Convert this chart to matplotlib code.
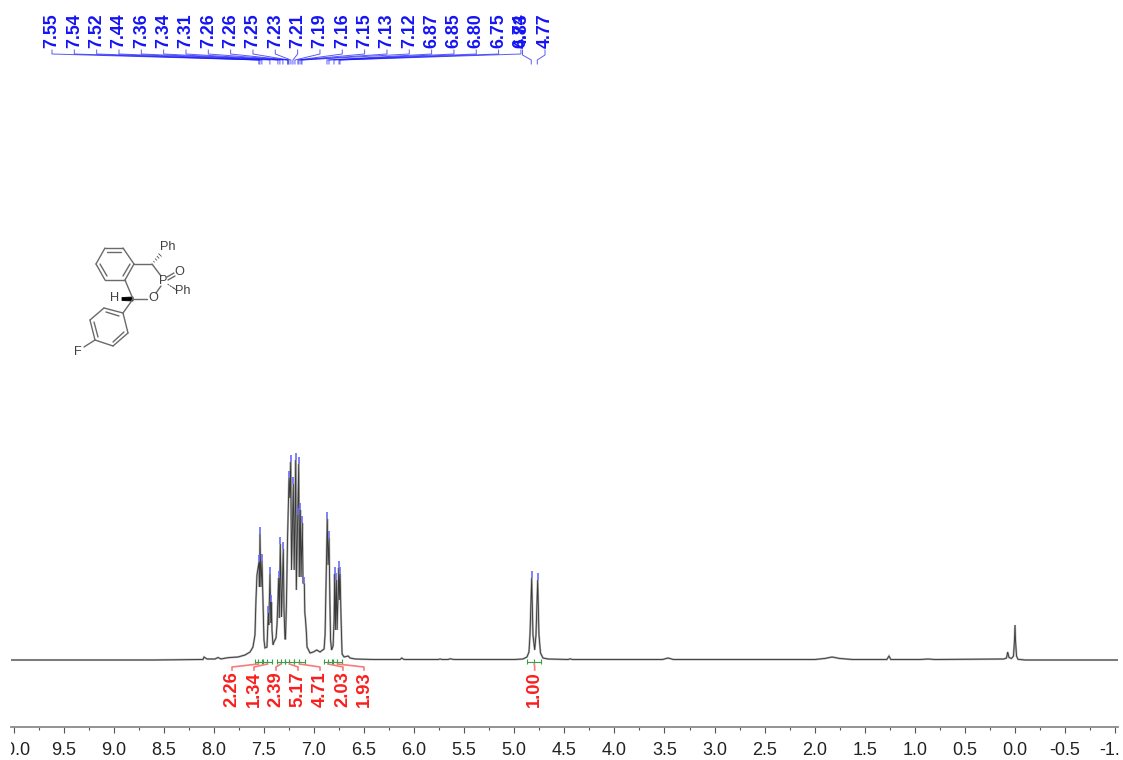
import matplotlib
matplotlib.use('Agg')
import matplotlib.pyplot as plt
import numpy as np
from matplotlib.transforms import Bbox
from matplotlib.patches import Polygon

plt.rcParams['font.family'] = ['Liberation Sans', 'DejaVu Sans']
plt.rcParams['axes.unicode_minus'] = False

# spectrum outline: shift in ppm, height above baseline
ppm = [10.03, 8.60, 8.108, 8.098, 8.068, 7.988, 7.958, 7.928, 7.878, 7.838, 7.758, 7.688, 7.638,
       7.609, 7.589, 7.579, 7.569, 7.549, 7.544, 7.539, 7.529, 7.519, 7.509, 7.499, 7.489, 7.469,
       7.456, 7.451, 7.439, 7.431, 7.425, 7.419, 7.409, 7.399, 7.379, 7.369, 7.352, 7.346, 7.336,
       7.324, 7.306, 7.299, 7.289, 7.284, 7.274, 7.264, 7.249, 7.241, 7.232, 7.224, 7.206, 7.197,
       7.182, 7.176, 7.152, 7.146, 7.136, 7.129, 7.116, 7.109, 7.096, 7.091, 7.084, 7.074, 7.069,
       7.039, 7.006, 6.972, 6.939, 6.899, 6.889, 6.879, 6.867, 6.859, 6.849, 6.841, 6.834, 6.824,
       6.809, 6.799, 6.793, 6.786, 6.776, 6.769, 6.752, 6.747, 6.739, 6.729, 6.719, 6.699, 6.659,
       6.639, 6.589, 6.40, 6.14, 6.124, 6.10, 5.76, 5.741, 5.72, 5.66, 5.641, 5.60, 5.00,
       4.913, 4.873, 4.853, 4.843, 4.826, 4.813, 4.796, 4.783, 4.766, 4.753, 4.738, 4.713, 4.663,
       4.46, 4.443, 4.42, 3.52, 3.465, 3.41, 2.00, 1.90, 1.827, 1.75, 1.62, 1.28, 1.258, 1.24,
       0.95, 0.869, 0.80, 0.11, 0.085, 0.073, 0.06, 0.035, 0.015, 0.005, 0.0, -0.005, -0.015,
       -0.03, -0.10, -1.03]
height = [0, 0, 0.5, 3, 1, 1, 2.5, 1, 2, 2.5, 3, 5, 8,
          13, 25, 60, 85, 98, 73, 126, 73, 99, 60, 20, 12, 13,
          47, 35, 86, 37, 58, 30, 15, 18, 22, 35, 82, 42, 116,
          43, 111, 50, 21, 21, 60, 120, 182, 162, 198, 90, 176, 90,
          200, 70, 196, 83, 150, 83, 137, 77, 76, 47, 40, 25, 13,
          7, 8, 10, 8, 11, 25, 80, 141, 95, 122, 60, 20, 10,
          14, 40, 86, 30, 80, 30, 92, 60, 86, 40, 6, 3, 4,
          2, 1, 0.5, 0.5, 2, 0.5, 0.5, 1, 0.5, 0.5, 1.2, 0.5, 0.5,
          1, 3, 8, 25, 82, 25, 10, 25, 80, 25, 7, 2, 1,
          0.5, 1.2, 0.5, 0.5, 2, 0.5, 0.5, 1.5, 3, 1.5, 0.5, 0.5, 4, 0.5,
          0.5, 1, 0.5, 1, 2, 8, 2.5, 1.5, 4, 20, 35, 20, 4,
          0.7, 0, 0]

# small blue marks sitting on the picked peaks
pick_ppm = [7.549, 7.539, 7.519, 7.456, 7.439, 7.425, 7.352, 7.336, 7.306, 7.249, 7.232, 7.206,
            7.182, 7.157, 7.152, 7.136, 7.116, 7.096, 6.867, 6.849, 6.793, 6.776, 6.752, 6.739,
            4.826, 4.766]
pick_height = [98, 126, 99, 47, 86, 58, 82, 116, 111, 182, 198, 176,
               200, 145, 196, 150, 137, 76, 141, 122, 86, 80, 92, 86,
               82, 80]

peak_labels = ['7.55', '7.54', '7.52', '7.44', '7.36', '7.34', '7.31', '7.26', '7.26', '7.25', '7.23',
               '7.21', '7.19', '7.16', '7.15', '7.13', '7.12', '6.87', '6.85', '6.80', '6.75', '6.74']
brace_labels = ['4.83', '4.77']

integral_labels = ['2.26', '1.34', '2.39', '5.17', '4.71', '2.03', '1.93', '1.00']
integral_start = [7.59, 7.51, 7.37, 7.29, 7.20, 6.90, 6.81, 4.87]
integral_end = [7.52, 7.42, 7.29, 7.20, 7.09, 6.82, 6.72, 4.73]

tick_values = [10.0, 9.5, 9.0, 8.5, 8.0, 7.5, 7.0, 6.5, 6.0, 5.5, 5.0, 4.5, 4.0,
               3.5, 3.0, 2.5, 2.0, 1.5, 1.0, 0.5, 0.0, -0.5, -1.0]
tick_labels = ['10.0', '9.5', '9.0', '8.5', '8.0', '7.5', '7.0', '6.5', '6.0', '5.5', '5.0', '4.5',
               '4.0', '3.5', '3.0', '2.5', '2.0', '1.5', '1.0', '0.5', '0.0', '-0.5', '-1.0']
minor_values = [9.75, 9.25, 8.75, 8.25, 7.75, 7.25, 6.75, 6.25, 5.75, 5.25, 4.75, 4.25, 3.75,
                3.25, 2.75, 2.25, 1.75, 1.25, 0.75, 0.25, -0.25, -0.75]

W, H = 1123, 760
LEFT, RIGHT, AXIS_Y, BASE_Y = 11, 1118, 727, 660
BLUE = '#1414f5'
RED = '#fa1e1e'


def ppm_at(x_px):
    return (1015.0 - x_px) / 100.15


fig = plt.figure(figsize=(W / 100, H / 100), dpi=100)
ax = fig.add_axes([LEFT / W, (H - AXIS_Y) / H, (RIGHT - LEFT) / W, AXIS_Y / H])
ax.set_xlim(ppm_at(LEFT), ppm_at(RIGHT))
ax.set_ylim(BASE_Y - AXIS_Y, BASE_Y)
ax.patch.set_visible(False)

# wide grey under a thin dark line gives the soft look of the scan
ax.plot(ppm, height, color='#b4b4b4', lw=1.5, solid_joinstyle='miter', zorder=2.5)
ax.plot(ppm, height, color='#3a3a3a', lw=0.65, solid_joinstyle='miter', zorder=3)
ax.vlines(pick_ppm, np.array(pick_height) + 0.5, np.array(pick_height) + 7.5,
          color='#6a6af8', lw=1.2, zorder=4)

# peak labels and their fan of leader lines
for i, label in enumerate(peak_labels):
    x_label = ppm_at(52 + 22.33 * i)
    peak = float(label)
    ax.text(x_label, BASE_Y - 31, label, rotation=90, ha='center', va='center',
            fontsize=12.8, fontweight='bold', color=BLUE, clip_on=False)
    ax.plot([x_label, x_label, peak, peak],
            [BASE_Y - 50, BASE_Y - 54, BASE_Y - 60, BASE_Y - 64],
            color=BLUE, lw=0.7, alpha=0.7, clip_on=False)

for label, x_px, peak in zip(brace_labels, [522.5, 545], [4.83, 4.77]):
    x_label = ppm_at(x_px)
    ax.text(x_label, BASE_Y - 31, label, rotation=90, ha='center', va='center',
            fontsize=12.8, fontweight='bold', color=BLUE, clip_on=False)
    ax.plot([x_label, x_label, peak, peak],
            [BASE_Y - 50, BASE_Y - 55, BASE_Y - 60, BASE_Y - 64],
            color=BLUE, lw=0.7, alpha=0.7, clip_on=False)

# integrals
label_px = [232, 254, 276, 298, 320, 343, 364, 534.7]
for label, x_px, a, b in zip(integral_labels, label_px, integral_start, integral_end):
    x_label = ppm_at(x_px)
    mid = (a + b) / 2
    ax.plot([a, b], [-1.5, -1.5], color='#35a045', lw=0.8, zorder=2)
    ax.vlines([a, mid, b], -4, 1, color='#35a045', lw=0.8, zorder=2)
    ax.plot([mid, x_label, x_label], [-4, -7, -10], color='#fb7a7a', lw=1.2)
    ax.text(x_label, BASE_Y - 689, label, rotation=90, ha='center', va='center',
            fontsize=13.2, fontweight='bold', color=RED)

for side in ['top', 'left', 'right']:
    ax.spines[side].set_visible(False)
ax.spines['bottom'].set_color('#8a8a8a')
ax.spines['bottom'].set_linewidth(1.3)
ax.set_yticks([])
ax.set_xticks(tick_values)
ax.set_xticklabels(tick_labels)
ax.set_xticks(minor_values, minor=True)
ax.tick_params(axis='x', which='major', length=4.3, width=0.8, color='#555555', pad=6.5,
               labelsize=13, labelcolor='#222222')
ax.tick_params(axis='x', which='minor', length=2.2, width=0.8, color='#555555')

# the end labels are cut by the plot edge in the original
edge = Bbox([[LEFT, 0], [RIGHT + 1, H]])
for tl in ax.get_xticklabels():
    tl.set_clip_box(edge)
    tl.set_clip_on(True)

# structure drawing, in picture pixels
mol = fig.add_axes([0, 0, 1, 1])
mol.set_xlim(0, W)
mol.set_ylim(H, 0)
mol.axis('off')
mol.patch.set_visible(False)

bonds = [[(105, 248), (123, 248)], [(123, 248), (134, 264)], [(134, 264), (125, 280)],
         [(125, 280), (105, 280)], [(105, 280), (96, 264)], [(96, 264), (105, 248)],
         [(107, 252), (121, 252)], [(130, 264), (123, 276)], [(107, 276), (100, 264)],
         [(134, 264), (152, 264)], [(152, 264), (161, 276)], [(125, 280), (133, 299)],
         [(133, 299), (147, 299)], [(161, 286), (156, 293)], [(133, 299), (123, 313)],
         [(123, 313), (104, 308)], [(104, 308), (90, 320)], [(90, 320), (95, 340)],
         [(95, 340), (113, 346)], [(113, 346), (128, 333)], [(128, 333), (123, 313)],
         [(119, 316), (106, 312)], [(94, 322), (98, 337)], [(113, 342), (124, 332)],
         [(95, 340), (84, 347)], [(167, 277), (174, 273)], [(168, 280), (175, 276)]]
for (x0, y0), (x1, y1) in bonds:
    mol.plot([x0, x1], [y0, y1], color='#6a6a6a', lw=1.0, solid_capstyle='round')

# hashed bonds
for (x0, y0), (x1, y1) in [[(152, 264), (160, 255)], [(166, 283), (175, 289)]]:
    for t in np.linspace(0, 1, 5):
        xm, ym = x0 + (x1 - x0) * t, y0 + (y1 - y0) * t
        mol.plot([xm - 1.2 * t, xm + 1.2 * t], [ym - 1.2 * t, ym + 1.2 * t], color='#4a4a4a', lw=0.6)

mol.add_patch(Polygon([(122, 297.5), (133, 297), (133, 301), (122, 300.5)], closed=True,
                      facecolor='black', edgecolor='black', lw=0.6))

atoms = [('Ph', 168, 247), ('P', 163, 281), ('O', 179, 272), ('Ph', 183, 291), ('O', 153, 298),
         ('H', 115, 298), ('F', 78, 352)]
for text, x, y in atoms:
    mol.text(x, y, text, ha='center', va='center', fontsize=9.2, color='#404040')

fig.savefig('out.png', dpi=100)
